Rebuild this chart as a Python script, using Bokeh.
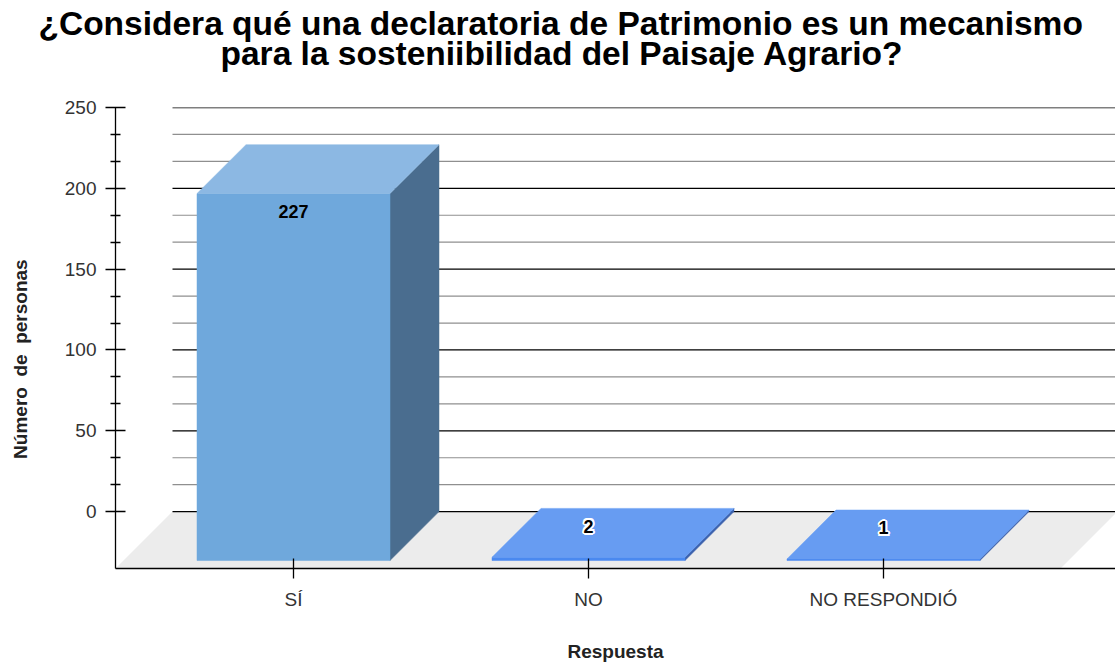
from bokeh.plotting import figure
from bokeh.models import (Range1d, FixedTicker, Title, ColumnDataSource)
from bokeh.core.properties import value
from bokeh.embed import file_html
from bokeh.resources import INLINE

# ---- data ----
categories = ["SÍ", "NO", "NO RESPONDIÓ"]
counts = [227, 2, 1]
y_major = [0, 50, 100, 150, 200, 250]
title_lines = ["¿Considera qué una declaratoria de Patrimonio es un mecanismo",
               "para la sosteniibilidad del Paisaje Agrario?"]
y_title = "Número\u00a0 de\u00a0 personas"
x_title = "Respuesta"

# ---- styling / geometry constants ----
PX_X = 295.0        # px per category
PX_Y = 1.62         # px per count
DEPTH = 49          # bar depth (px)
FLOOR_DEPTH = 57    # floor depth (px)
BAR_W_PX = 193
dx = DEPTH / PX_X
dy = DEPTH / PX_Y
fdx = FLOOR_DEPTH / PX_X
fdy = FLOOR_DEPTH / PX_Y
bw = BAR_W_PX / PX_X

x_start = -178 / PX_X
x_end = x_start + 1000 / PX_X
y_start = -fdy
y_end = 250

front_colors = ["#6fa8dc", "#4a89f0", "#4a89f0"]
top_colors = ["#8cb8e3", "#679cf2", "#679cf2"]
side_colors = ["#4a6d8f", "#3a60ad", "#3a60ad"]

FONT = "Liberation Sans"

p = figure(width=1115, height=664, output_backend="svg", toolbar_location=None,
           x_range=Range1d(x_start, x_end), y_range=Range1d(y_start, y_end),
           min_border_left=115, min_border_right=0, min_border_top=107,
           min_border_bottom=94, title=None)
p.outline_line_color = None
p.xgrid.visible = False
p.ygrid.visible = False
p.background_fill_color = "white"

# floor
fx_right = x_start + 945 / PX_X
p.patch([x_start, x_start + fdx, fx_right + fdx, fx_right],
        [y_start, 0, 0, y_start], fill_color="#ececec", line_color=None)

# grid lines (back plane)
minor = [m + k * 50 / 3 for m in y_major[:-1] for k in (1, 2)]
gx0 = x_start + fdx
p.segment(x0=[gx0] * len(minor), x1=[x_end] * len(minor), y0=minor, y1=minor,
          line_color="#8f8f8f", line_width=1.2)
p.segment(x0=[gx0] * len(y_major), x1=[x_end] * len(y_major), y0=y_major, y1=y_major,
          line_color="#000000", line_width=1.3)

# bars
xs = list(range(len(categories)))
side_x, side_y, front_x, front_y, top_x, top_y = [], [], [], [], [], []
for i, v in zip(xs, counts):
    l, r = i - bw / 2, i + bw / 2
    side_x.append([r, r + dx, r + dx, r]); side_y.append([-dy, 0, v, v - dy])
    front_x.append([l, r, r, l]); front_y.append([-dy, -dy, v - dy, v - dy])
    top_x.append([l, r, r + dx, l + dx]); top_y.append([v - dy, v - dy, v, v])
p.patches(side_x, side_y, fill_color=side_colors, line_color=side_colors, line_width=0.5)
p.patches(front_x, front_y, fill_color=front_colors, line_color=front_colors, line_width=0.5)
p.patches(top_x, top_y, fill_color=top_colors, line_color=top_colors, line_width=0.5)

# value labels
lab_data = dict(x=xs, y=[v - dy for v in counts], text=[str(v) for v in counts],
                off=[18 if v > 20 else -31 for v in counts])
lab_kwargs = dict(x="x", y="y", text="text", text_align="center",
                  text_baseline="middle", text_font=value(FONT), text_font_style="bold",
                  text_font_size="18px")
big = ColumnDataSource({k: [vv for vv, c in zip(val, counts) if c > 20] for k, val in lab_data.items()})
small_d = {k: [vv for vv, c in zip(val, counts) if c <= 20] for k, val in lab_data.items()}
small = ColumnDataSource(small_d)
p.text(source=big, y_offset="off", text_color="black", **lab_kwargs)
# white halo behind small labels
for ox, oy in [(-2, 0), (2, 0), (0, -2), (0, 2), (-1.5, -1.5), (1.5, 1.5), (-1.5, 1.5), (1.5, -1.5)]:
    src = ColumnDataSource(dict(small_d, off=[o + oy for o in small_d["off"]]))
    p.text(source=src, y_offset="off", x_offset=ox, text_color="white", **lab_kwargs)
p.text(source=small, y_offset="off", text_color="black", **lab_kwargs)

# axes
ya = p.yaxis[0]
ya.ticker = FixedTicker(ticks=y_major, minor_ticks=minor)
ya.major_tick_in = 10
ya.major_tick_out = 10
ya.minor_tick_in = 5
ya.minor_tick_out = 5
ya.axis_line_color = "black"
ya.axis_line_width = 1.3
ya.major_tick_line_color = "black"
ya.minor_tick_line_color = "black"
ya.major_tick_line_width = 1.3
ya.minor_tick_line_width = 1.3
ya.major_label_text_font = FONT
ya.major_label_text_font_size = "19px"
ya.major_label_text_color = "#333333"
ya.major_label_standoff = 9
ya.axis_label = y_title + "\u00a0" * 8
ya.axis_label_text_font = FONT
ya.axis_label_text_font_style = "bold"
ya.axis_label_text_font_size = "19px"
ya.axis_label_text_color = "#222222"
ya.axis_label_standoff = 31

xa = p.xaxis[0]
xa.ticker = FixedTicker(ticks=xs)
xa.major_label_overrides = {i: c for i, c in zip(xs, categories)}
xa.major_tick_in = 10
xa.major_tick_out = 10
xa.minor_tick_line_color = None
xa.axis_line_color = "black"
xa.axis_line_width = 1.3
xa.major_tick_line_color = "black"
xa.major_tick_line_width = 1.3
xa.major_label_text_font = FONT
xa.major_label_text_font_size = "19px"
xa.major_label_text_color = "#333333"
xa.major_label_standoff = 10
xa.axis_label = x_title
xa.axis_label_text_font = FONT
xa.axis_label_text_font_style = "bold"
xa.axis_label_text_font_size = "19px"
xa.axis_label_text_color = "#222222"
xa.axis_label_standoff = 28

# title: spacer, then line 2, then line 1 (panels stack outward from the frame)
p.add_layout(Title(text=" ", text_font_size="1px", standoff=33), "above")
p.add_layout(Title(text=title_lines[1], align="left", offset=220 - 115, standoff=0,
                   text_font=FONT, text_font_style="bold", text_font_size="33.5px",
                   text_color="black"), "above")
try:
    t1 = Title(text=title_lines[0], align="left", offset=38 - 115, standoff=-18.6,
               text_font=FONT, text_font_style="bold", text_font_size="33.5px",
               text_color="black")
except Exception:
    t1 = Title(text=title_lines[0], align="left", offset=38 - 115, standoff=0,
               text_font=FONT, text_font_style="bold", text_font_size="33.5px",
               text_color="black")
p.add_layout(t1, "above")

open("out.html", "w").write(file_html(p, INLINE))
